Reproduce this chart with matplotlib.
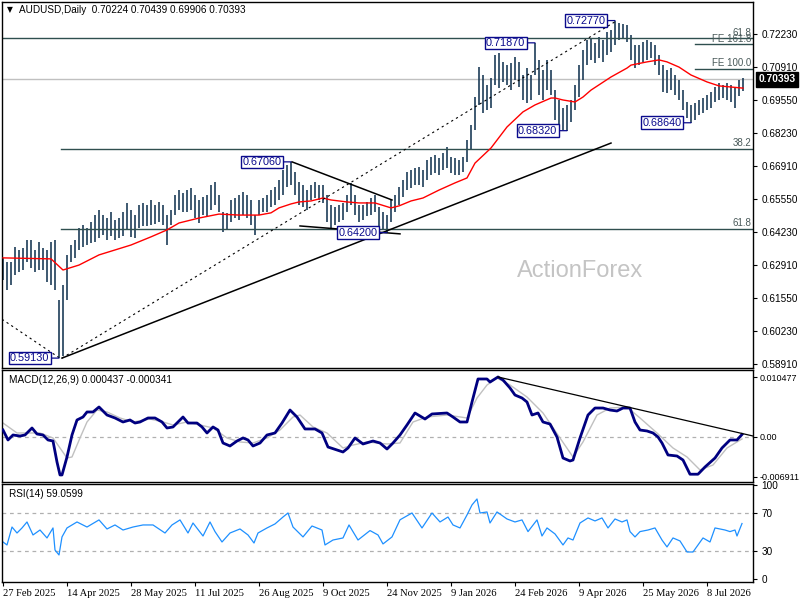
import matplotlib
matplotlib.use('Agg')
import matplotlib.pyplot as plt
import matplotlib.transforms as mtransforms

plt.rcParams['font.family'] = ['Liberation Sans', 'DejaVu Sans']

# ---------------- data ----------------
symbol = "AUDUSD,Daily"
ohlc_last = ["0.70224", "0.70439", "0.69906", "0.70393"]
last_close = 0.70393

highs = [0.6318,0.6302,0.6302,0.6362,0.6350,0.6358,0.6390,0.6390,0.6350,0.6382,
         0.6358,0.6350,0.6382,0.6390,0.6148,0.6209,0.6330,0.6370,0.6390,0.6439,
         0.6451,0.6439,0.6463,0.6491,0.6512,0.6491,0.6479,0.6504,0.6471,0.6479,
         0.6504,0.6540,0.6512,0.6491,0.6532,0.6540,0.6532,0.6552,0.6532,0.6544,
         0.6532,0.6491,0.6512,0.6572,0.6592,0.6580,0.6592,0.6600,0.6572,0.6552,
         0.6564,0.6572,0.6613,0.6625,0.6572,0.6504,0.6500,0.6552,0.6560,0.6572,
         0.6584,0.6572,0.6552,0.6491,0.6552,0.6560,0.6572,0.6592,0.6604,0.6633,
         0.6673,0.6693,0.6706,0.6665,0.6625,0.6613,0.6592,0.6613,0.6625,0.6613,
         0.6613,0.6572,0.6532,0.6524,0.6532,0.6540,0.6572,0.6621,0.6572,0.6532,
         0.6532,0.6544,0.6560,0.6572,0.6524,0.6504,0.6491,0.6552,0.6572,0.6604,
         0.6633,0.6665,0.6673,0.6681,0.6685,0.6673,0.6714,0.6726,0.6734,0.6722,
         0.6742,0.6766,0.6726,0.6722,0.6714,0.6726,0.6794,0.6855,0.6968,0.7089,
         0.7057,0.7017,0.7045,0.7138,0.7146,0.7110,0.7097,0.7105,0.7130,0.7110,
         0.7057,0.7085,0.7057,0.7187,0.7118,0.7077,0.7118,0.7077,0.6996,0.6956,
         0.6924,0.6936,0.6956,0.7017,0.7097,0.7158,0.7198,0.7206,0.7186,0.7211,
         0.7198,0.7231,0.7239,0.7277,0.7267,0.7265,0.7259,0.7219,0.7178,0.7178,
         0.7190,0.7198,0.7190,0.7178,0.7138,0.7097,0.7077,0.7085,0.7057,0.7037,
         0.6996,0.6948,0.6936,0.6944,0.6956,0.6964,0.6976,0.6988,0.7009,0.7025,
         0.7017,0.7025,0.7017,0.7004,0.7037,0.70439]
lows = [0.6229,0.6188,0.6209,0.6249,0.6261,0.6269,0.6302,0.6277,0.6261,0.6269,
        0.6269,0.6221,0.6209,0.6188,0.5913,0.5922,0.6148,0.6302,0.6318,0.6350,
        0.6362,0.6370,0.6378,0.6382,0.6398,0.6411,0.6390,0.6407,0.6390,0.6398,
        0.6407,0.6431,0.6403,0.6398,0.6439,0.6447,0.6447,0.6451,0.6455,0.6463,
        0.6451,0.6370,0.6451,0.6491,0.6512,0.6504,0.6504,0.6512,0.6479,0.6459,
        0.6491,0.6483,0.6512,0.6532,0.6504,0.6423,0.6431,0.6463,0.6479,0.6471,
        0.6491,0.6479,0.6451,0.6411,0.6491,0.6504,0.6504,0.6524,0.6532,0.6552,
        0.6572,0.6604,0.6613,0.6572,0.6532,0.6524,0.6512,0.6552,0.6560,0.6552,
        0.6540,0.6463,0.6439,0.6451,0.6463,0.6471,0.6504,0.6532,0.6491,0.6463,
        0.6471,0.6487,0.6491,0.6504,0.6439,0.6431,0.6420,0.6463,0.6504,0.6532,
        0.6564,0.6592,0.6600,0.6613,0.6613,0.6604,0.6633,0.6653,0.6661,0.6653,
        0.6673,0.6681,0.6661,0.6653,0.6653,0.6665,0.6706,0.6754,0.6835,0.6936,
        0.6903,0.6916,0.6924,0.7017,0.7004,0.7029,0.7017,0.6996,0.7037,0.7009,
        0.6956,0.6944,0.6956,0.7057,0.6976,0.6956,0.6996,0.6976,0.6875,0.6855,
        0.6835,0.6832,0.6867,0.6916,0.6968,0.7037,0.7097,0.7118,0.7105,0.7126,
        0.7110,0.7138,0.7150,0.7178,0.7198,0.7206,0.7190,0.7118,0.7085,0.7097,
        0.7110,0.7118,0.7126,0.7097,0.7057,0.6988,0.6984,0.6996,0.6976,0.6956,
        0.6916,0.6883,0.6864,0.6875,0.6895,0.6903,0.6916,0.6924,0.6948,0.6956,
        0.6964,0.6956,0.6948,0.6924,0.6972,0.69906]

ma_idx = [0,12,15,19,24,32,37,41,44,49,54,59,64,67,69,72,74,77,80,82,86,89,93,97,99,
          102,105,109,113,116,118,122,126,130,133,137,138,140,143,145,147,152,156,157,
          161,164,166,169,172,176,179,185]
ma_val = [0.6318,0.6314,0.6269,0.6289,0.6330,0.6370,0.6403,0.6431,0.6459,0.6479,
          0.6495,0.6491,0.6491,0.6500,0.6520,0.6536,0.6544,0.6548,0.6560,0.6552,
          0.6544,0.6540,0.6540,0.6520,0.6528,0.6548,0.6560,0.6592,0.6621,0.6641,
          0.6701,0.6762,0.6847,0.6908,0.6936,0.6964,0.6964,0.6956,0.6948,0.6968,
          0.6996,0.7049,0.7085,0.7097,0.7110,0.7118,0.7110,0.7089,0.7057,0.7029,
          0.7013,0.7004]

macd_idx = [0,1.25,2.5,4.25,5.5,7.25,8.5,10,11.25,12.5,
            13.5,14.25,14.75,16,17.25,18.5,20,21,22.5,24,
            26,28,30,31.75,33,34.25,36.25,38,39.75,41,
            42.5,45,46.25,48.5,49.75,51,52.5,53.75,55,56.75,
            58.5,60,61.25,62.5,64.25,66,68,69.75,71.75,73.5,
            75.5,78,79.75,81.25,83.5,85,86.25,88,90,92.5,
            94.25,96,97.5,99.25,101,103,105.5,107.25,111,112.5,
            114.25,116,117.25,118.75,121,121.75,123.75,125,126.75,128,
            129.75,131,132.25,133.75,135,136.75,138.5,140,141.75,142.5,
            144.25,146.25,148,150,151.75,153.5,155,156.75,158,159.25,
            161,162.5,163.75,164.75,166.25,168.5,170,171.75,173.75,175.5,
            178,179.75,181.75,183.5,184.75]
macd_val = [0.00122,-0.00052,0.00035,0.00017,0.00035,0.00157,0.00052,0.00035,-0.00052,-0.00070,
            -0.00437,-0.00663,-0.00663,-0.00349,0.00035,0.00297,0.00349,0.00437,0.00437,0.00524,
            0.00384,0.00332,0.00262,0.00297,0.00244,0.00262,0.00332,0.00332,0.00262,0.00157,
            0.00175,0.00349,0.00244,0.00244,0.00175,0.00070,0.00175,0.00122,-0.00105,-0.00157,
            -0.00070,-0.00017,-0.00052,-0.00157,-0.00105,0.00035,0.00070,0.00244,0.00471,0.00349,
            0.00140,0.00140,0.00070,-0.00175,-0.00227,-0.00262,-0.00192,-0.00017,-0.00122,-0.00070,
            -0.00105,-0.00210,-0.00105,0.00035,0.00210,0.00419,0.00314,0.00402,0.00419,0.00349,
            0.00262,0.00262,0.00611,0.01013,0.01013,0.00960,0.01048,0.00995,0.00856,0.00733,
            0.00681,0.00611,0.00384,0.00419,0.00262,0.00227,0.0,-0.00367,-0.00419,-0.00402,
            -0.00017,0.00384,0.00506,0.00506,0.00471,0.00454,0.00506,0.00506,0.00262,0.00122,
            0.00105,0.00070,0.0,-0.00105,-0.00314,-0.00332,-0.00402,-0.00650,-0.00650,-0.00524,
            -0.00367,-0.00192,-0.00052,-0.00052,0.00044]

sig_idx = [0,3.5,9.25,12.5,16,17.25,19.25,21,23.5,26,
           29.25,32.5,36.75,40,42.5,46,49.25,52.5,56,59.25,
           62.5,66,69.25,72.5,74.25,77.5,81,85,87.5,91,
           96,99.25,102.5,106,111,116,118.5,121,123.5,126.75,
           131,135,139.25,142.5,145,148.5,151.75,156,159.25,163.5,
           167.5,171,174.25,177.5,181,184.75]
sig_val = [0.00244,0.00070,0.00070,-0.00017,-0.00367,-0.00349,-0.00017,0.00262,0.00471,0.00437,
           0.00332,0.00262,0.00314,0.00262,0.00210,0.00262,0.00210,0.00157,-0.00017,-0.00087,
           -0.00105,-0.00017,0.00122,0.00349,0.00384,0.00175,0.00070,-0.00192,-0.00140,-0.00087,
           -0.00122,-0.00105,0.00262,0.00349,0.00384,0.00332,0.00681,0.00908,0.01030,0.00908,
           0.00698,0.00419,-0.00017,-0.00349,-0.00087,0.00384,0.00506,0.00524,0.00332,0.00070,
           -0.00192,-0.00349,-0.00576,-0.00489,-0.00192,-0.00034]

rsi_idx = [0,1,2.25,3.5,4.75,6,7.5,9.25,11,12.5,
           13,14,14.75,16,18.5,21,24,26,28,30,
           32.5,35,37.5,40.5,42.25,44.25,46.25,47.5,50,51.75,
           53,54.75,56.75,59.25,61.25,62.75,63.75,66,68,70,
           71.25,72.5,75,77.25,79.75,80.5,82.5,85,86.5,88.75,
           91.75,93.75,95,97.25,99.25,102.25,104.75,107.25,109.25,111.25,
           112.5,114.25,116,117.25,118.5,119.25,121,121.75,123.5,126,
           128,129.75,131.25,133.5,134.75,136,138,140,141.25,142.5,
           144.25,146.25,148,149.75,151.25,153,154.75,156,156.75,158,
           159.25,161.25,163,164.75,166,167.5,169.25,171,172.5,173.75,
           175,176.75,178,180.5,181.75,183,183.5,184.75]
rsi_val = [39.3,36.1,55.3,48.9,54.3,60.7,46.8,52.1,43.6,54.3,
           30.7,25.4,44.7,54.3,60.7,55.3,62.9,53.2,57.5,52.1,
           55.3,57.5,57.5,48.9,57.5,62.9,48.9,59.6,45.7,60.7,
           50.4,39.3,48.9,53.2,46.8,38.2,48.9,54.3,58.6,66.0,
           70.3,55.3,44.7,56.4,52.1,36.1,41.4,43.6,57.5,41.4,
           51.5,46.8,37.2,44.7,63.0,70.3,54.3,70.3,60.7,66.0,
           57.5,54.3,68.2,78.9,85.3,70.3,71.4,59.6,71.4,63.9,
           60.7,62.9,50.4,62.9,45.7,54.3,47.9,36.1,43.6,41.4,
           59.6,65.0,61.8,65.0,54.3,63.9,60.7,62.9,50.4,44.7,
           50.4,52.1,54.3,41.4,34.0,43.6,40.4,28.6,28.6,36.1,
           43.6,39.3,54.3,52.1,50.4,52.1,45.7,59.06]

date_idx = [0,16,32,48,64,80,96,112,128,144,160,176]
date_labels = ["27 Feb 2025","14 Apr 2025","28 May 2025","11 Jul 2025","26 Aug 2025",
               "9 Oct 2025","24 Nov 2025","9 Jan 2026","24 Feb 2026","9 Apr 2026",
               "25 May 2026","8 Jul 2026"]

price_ticks = [0.72230,0.70910,0.69550,0.68230,0.66910,0.65550,0.64230,
               0.62910,0.61550,0.60230,0.58910]
macd_ticks = [0.010477, 0.0, -0.006911]
macd_tick_labels = ["0.010477", "0.00", "-0.006911"]
rsi_ticks = [100, 70, 30, 0]

swing_idx = [14, 72, 96, 133, 141, 153, 172]
swing_price = [0.5913, 0.6706, 0.6420, 0.7187, 0.6832, 0.7277, 0.6864]
swing_text = ["0.59130", "0.67060", "0.64200", "0.71870", "0.68320", "0.72770", "0.68640"]

fib_level = [0.7205, 0.7181, 0.7081, 0.6758, 0.6434]
fib_text = ["61.8", "FE 161.8", "FE 100.0", "38.2", "61.8"]
fib_start = [-0.25, 173, 173, 14.5, 14.5]

# trend lines: (start bar, start price, end bar, end price, style)
trend_lines = [
    (14.75, 0.5913, 152.0, 0.6782, '-'),
    (14.75, 0.5913, 153.5, 0.7277, '--'),
    (-0.25, 0.6070, 14.0, 0.5915, '--'),
    (72.25, 0.6706, 97.25, 0.6552, '-'),
    (74.25, 0.6447, 99.25, 0.6415, '-'),
]
macd_trend = (123.75, 0.01048, 187.5, 0.00017)

# ---------------- figure ----------------
W, H = 800, 600
fig = plt.figure(figsize=(8, 6), dpi=100)
fig.patch.set_facecolor('white')

def px_axes(x0, y0, x1, y1):
    return fig.add_axes([x0 / W, 1 - y1 / H, (x1 - x0) / W, (y1 - y0) / H])

ax = px_axes(2, 2, 753, 368)
axm = px_axes(2, 370, 753, 482)
axr = px_axes(2, 484, 753, 582)

XMIN, XMAX = -0.25, 187.5
bar_color = '#1e3d59'
lvl_color = '#2f4f4f'
navy = '#0a0a8c'

for a in (ax, axm, axr):
    a.set_xlim(XMIN, XMAX)
    a.set_facecolor('white')
    for s in a.spines.values():
        s.set_color('black')
        s.set_linewidth(1.0)
    a.yaxis.tick_right()
    a.tick_params(axis='y', direction='out', length=3, width=0.8, pad=3,
                  labelsize=7.2, colors='black')
    a.tick_params(axis='x', bottom=False, labelbottom=False)

# main panel
ax.set_ylim(0.5873, 0.7352)
idx = list(range(len(highs)))
ax.vlines(idx, lows, highs, color=bar_color, lw=1.2)
ax.plot(ma_idx, ma_val, color='#ff0000', lw=1.0, zorder=3)

ax.axhline(last_close, color='#c0c0c0', lw=1.0, zorder=1)
trans = mtransforms.blended_transform_factory(ax.transAxes, ax.transData)
for lvl, txt, st in zip(fib_level, fib_text, fib_start):
    ax.plot([st, XMAX], [lvl, lvl], color=lvl_color, lw=1.0, zorder=2)
    ax.annotate(txt, xy=(1.0, lvl), xycoords=trans, xytext=(-1, 0.5),
                textcoords='offset points', ha='right', va='bottom',
                fontsize=7, color='#4a5a5a')

for x0, y0, x1, y1, ls in trend_lines:
    if ls == '--':
        ax.plot([x0, x1], [y0, y1], color='black', lw=0.8, ls=(0, (2, 3)), zorder=4)
    else:
        ax.plot([x0, x1], [y0, y1], color='black', lw=1.1, zorder=4)

for i, p, t in zip(swing_idx, swing_price, swing_text):
    ax.annotate(t, xy=(i, p), xytext=(-7, 0), textcoords='offset points',
                ha='right', va='center', fontsize=7.8, color=navy,
                bbox=dict(boxstyle='square,pad=0.12', fc='white', ec=navy, lw=1.0),
                arrowprops=dict(arrowstyle='-', color=navy, lw=0.9,
                                shrinkA=0, shrinkB=0), zorder=6)

ax.set_yticks(price_ticks)
ax.set_yticklabels([f"{v:.5f}" for v in price_ticks])

ax.annotate(f"{last_close:.5f}", xy=(1.0, last_close), xycoords=trans,
            xytext=(4, 0), textcoords='offset points', ha='left', va='center',
            fontsize=7.4, color='white', fontweight='bold',
            bbox=dict(boxstyle='square,pad=0.25', fc='black', ec='black'),
            annotation_clip=False, zorder=7)

ax.text(0.77, 0.265, "ActionForex", transform=ax.transAxes, ha='center',
        va='center', fontsize=17, color='#c4c4c4', zorder=0)

fig.text(7 / W, 1 - 10 / H, "\u25BC", fontsize=5.5, va='center', ha='left',
         family=['DejaVu Sans'])
fig.text(19 / W, 1 - 10 / H, symbol + "  " + " ".join(ohlc_last), fontsize=7.2,
         va='center', ha='left')

# MACD panel
axm.set_ylim(-0.00786, 0.01170)
axm.axhline(0.0, color='#b0b0b0', lw=0.9, ls=(0, (3, 3)))
axm.plot(sig_idx, sig_val, color='#c0c0c0', lw=1.0, zorder=2)
axm.plot(macd_idx, macd_val, color='#000080', lw=2.0, zorder=3)
axm.plot([macd_trend[0], macd_trend[2]], [macd_trend[1], macd_trend[3]],
         color='black', lw=0.9, zorder=4)
axm.set_yticks(macd_ticks)
axm.set_yticklabels(macd_tick_labels)
axm.tick_params(axis='y', labelsize=6.5, pad=2)
axm.text(7 / 751, 0.915, "MACD(12,26,9) 0.000437 -0.000341", transform=axm.transAxes,
         fontsize=7.2, va='center', ha='left')

# RSI panel
axr.set_ylim(-3.5, 101.3)
for lv in (70, 30):
    axr.axhline(lv, color='#b0b0b0', lw=0.9, ls=(0, (3, 3)))
axr.plot(rsi_idx, rsi_val, color='#1e90ff', lw=0.9)
axr.set_yticks(rsi_ticks)
axr.set_yticklabels([str(v) for v in rsi_ticks])
axr.text(7 / 751, 0.9, "RSI(14) 59.0599", transform=axr.transAxes,
         fontsize=7.2, va='center', ha='left')

axr.tick_params(axis='x', bottom=True, labelbottom=True, direction='out',
                length=3, width=0.8, pad=2)
axr.set_xticks(date_idx)
axr.set_xticklabels(date_labels, ha='left', fontsize=7.6, family=['Liberation Serif', 'DejaVu Serif'])

fig.savefig('out.png', dpi=100, facecolor='white')
